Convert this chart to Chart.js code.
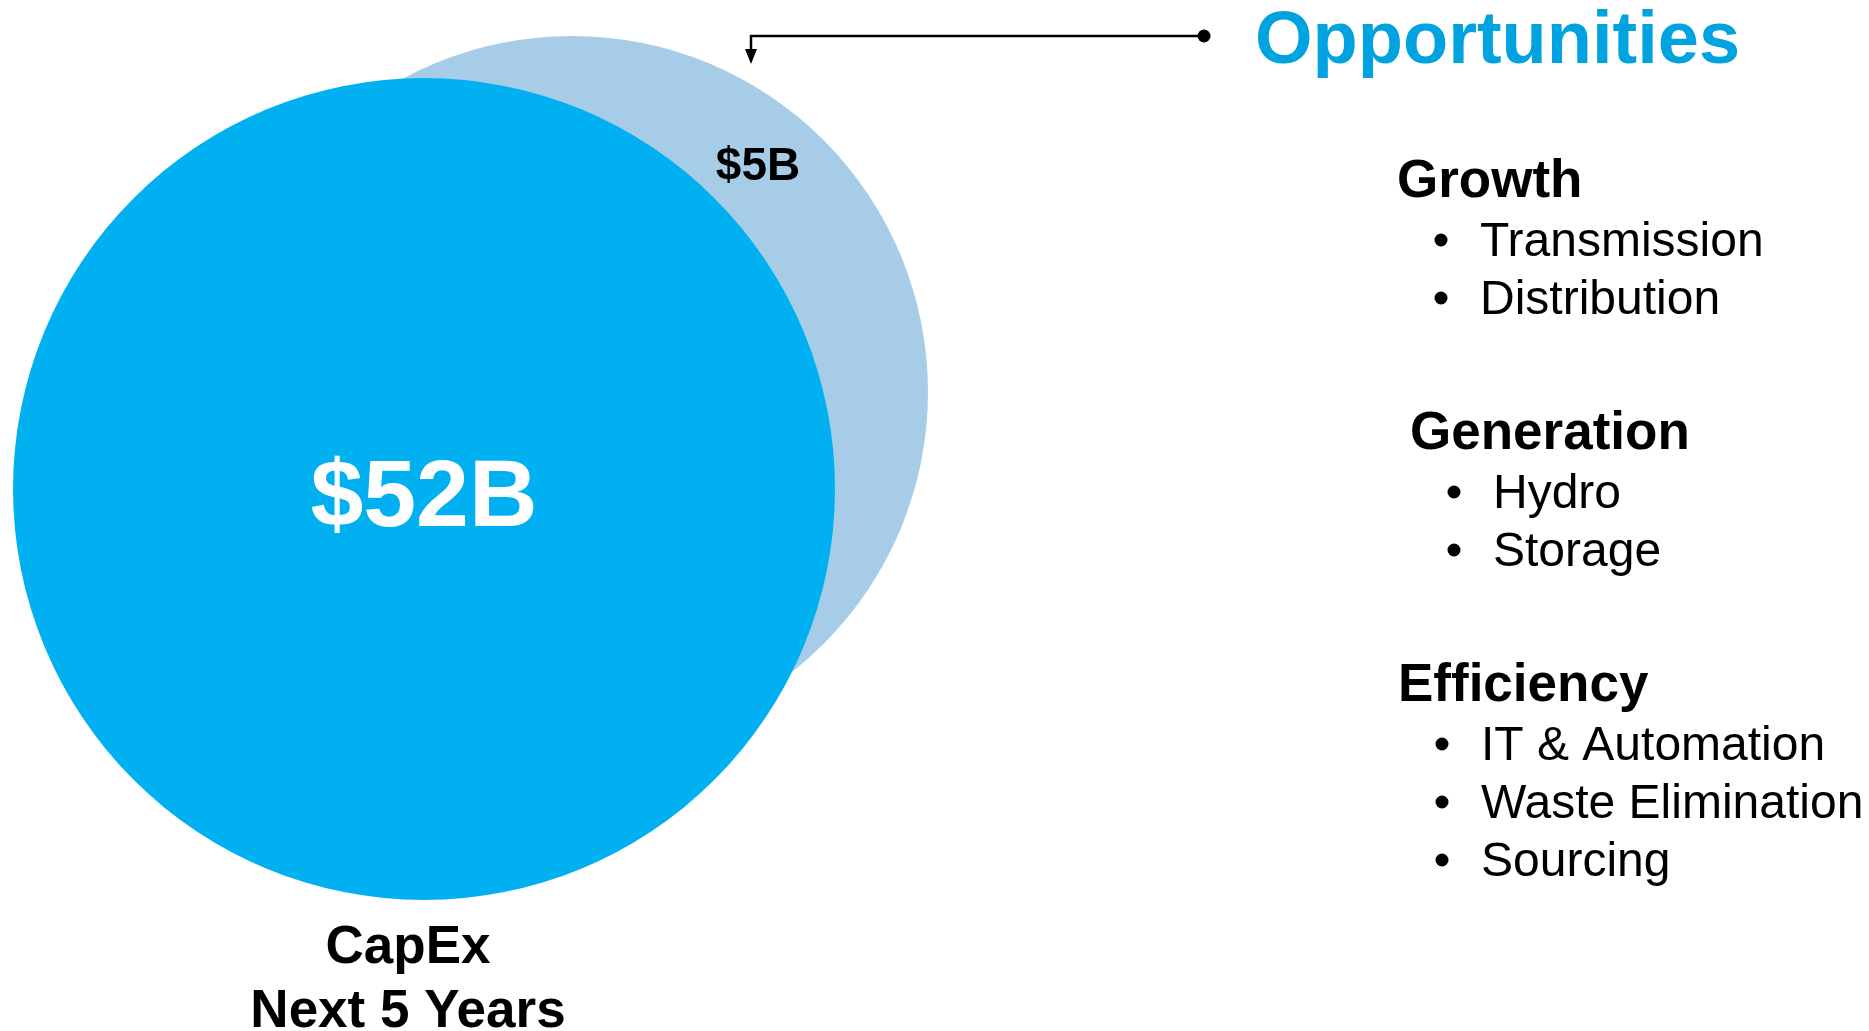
<!DOCTYPE html>
<html>
<head>
<meta charset="utf-8">
<script src="https://cdn.jsdelivr.net/npm/chart.js@4"></script>
<style>
    html, body { margin: 0; padding: 0; background: #fff; }
    #wrap { width: 1869px; height: 1031px; position: relative; }
</style>
</head>
<body>
<div id="wrap"><canvas id="capex-chart"></canvas></div>
<script>
// Bubble values (page units, y grows downward)
const bubbleLabels = ['Opportunities', 'CapEx Next 5 Years'];
const bubbleValues = ['$5B', '$52B'];
const bubbleX = [572, 424];
const bubbleY = [392, 489];
const bubbleR = [356, 411];

// Opportunity list on the right
const groupTitles = ['Growth', 'Generation', 'Efficiency'];
const groupItems = [
    ['Transmission', 'Distribution'],
    ['Hydro', 'Storage'],
    ['IT & Automation', 'Waste Elimination', 'Sourcing']
];

const colors = {
    main: '#00B0F0',
    light: '#A6CCE7',
    title: '#00A3E0',
    text: '#000000'
};

const font = "'Liberation Sans', Arial, sans-serif";

// text + connector drawn over the bubbles
const labelsPlugin = {
    id: 'labels',
    afterDatasetsDraw(chart) {
        const ctx = chart.ctx;
        const xs = chart.scales.x, ys = chart.scales.y;
        ctx.save();
        ctx.textAlign = 'center';
        ctx.textBaseline = 'alphabetic';

        // big value inside main bubble
        ctx.fillStyle = '#fff';
        ctx.font = 'bold 95px ' + font;
        ctx.fillText(bubbleValues[1], xs.getPixelForValue(bubbleX[1]), ys.getPixelForValue(bubbleY[1]) + 37);

        // small value in the light crescent
        ctx.fillStyle = colors.text;
        ctx.font = 'bold 46px ' + font;
        ctx.fillText(bubbleValues[0], 758, 180);

        // caption under the bubble
        ctx.font = 'bold 53px ' + font;
        ctx.fillText('CapEx', 408, 963);
        ctx.fillText('Next 5 Years', 408, 1027);

        // connector from title to light bubble
        ctx.strokeStyle = '#000';
        ctx.lineWidth = 2.5;
        ctx.beginPath();
        ctx.moveTo(1204, 36);
        ctx.lineTo(751, 36);
        ctx.lineTo(751, 52);
        ctx.stroke();
        ctx.fillStyle = '#000';
        ctx.beginPath();
        ctx.moveTo(745, 49);
        ctx.lineTo(757, 49);
        ctx.lineTo(751, 64);
        ctx.closePath();
        ctx.fill();
        ctx.beginPath();
        ctx.arc(1204, 36, 6.5, 0, Math.PI * 2);
        ctx.fill();

        // title
        ctx.textAlign = 'left';
        ctx.fillStyle = colors.title;
        ctx.font = 'bold 74px ' + font;
        ctx.fillText(bubbleLabels[0], 1255, 63);

        // groups
        const groupX = [1397, 1410, 1398];
        const groupY = [197, 449, 701];
        ctx.fillStyle = colors.text;
        groupTitles.forEach((title, g) => {
            ctx.font = 'bold 53px ' + font;
            ctx.fillText(title, groupX[g], groupY[g]);
            ctx.font = '48px ' + font;
            groupItems[g].forEach((item, i) => {
                const y = groupY[g] + 59 + i * 58;
                ctx.beginPath();
                ctx.arc(groupX[g] + 44, y - 16, 6.5, 0, Math.PI * 2);
                ctx.fill();
                ctx.fillText(item, groupX[g] + 83, y);
            });
        });
        ctx.restore();
    }
};

document.addEventListener('DOMContentLoaded', () => {
    const ctx = document.getElementById('capex-chart');

    new Chart(ctx, {
        type: 'bubble',
        data: {
            labels: bubbleLabels,
            datasets: [{
                data: bubbleX.map((x, i) => ({ x: x, y: bubbleY[i], r: bubbleR[i] })),
                backgroundColor: [colors.light, colors.main],
                borderWidth: 0,
                hoverRadius: 0,
                clip: false
            }]
        },
        options: {
            responsive: true,
            maintainAspectRatio: false,
            animation: false,
            layout: { padding: 0, autoPadding: false },
            plugins: {
                legend: { display: false },
                tooltip: { enabled: false }
            },
            scales: {
                x: { type: 'linear', min: 0, max: 1869, display: false },
                y: { type: 'linear', min: 0, max: 1031, reverse: true, display: false }
            }
        },
        plugins: [labelsPlugin]
    });
});
</script>
</body>
</html>
